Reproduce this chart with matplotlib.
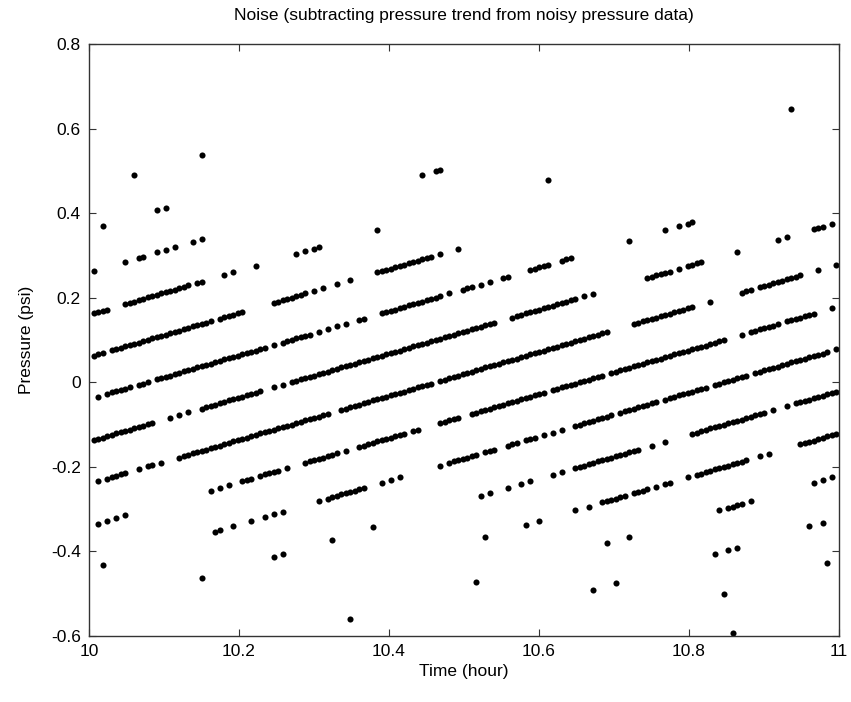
import matplotlib
matplotlib.use('Agg')
import matplotlib.pyplot as plt

# Noise points, grouped by quantisation band (band name = offset at 10 h)
t_m024 = [10.012, 10.024, 10.030, 10.036, 10.042, 10.048, 10.066, 10.078, 10.084, 10.096,
          10.120, 10.126, 10.132, 10.138, 10.144, 10.150, 10.156, 10.162, 10.168, 10.174,
          10.180, 10.186, 10.192, 10.198, 10.204, 10.210, 10.216, 10.222, 10.228, 10.234,
          10.240, 10.246, 10.252, 10.258, 10.264, 10.270, 10.276, 10.282, 10.288, 10.294,
          10.300, 10.306, 10.312, 10.318, 10.336, 10.342, 10.348, 10.354, 10.360, 10.366,
          10.372, 10.378, 10.384, 10.390, 10.396, 10.402, 10.408, 10.414, 10.420, 10.426,
          10.432, 10.438, 10.444, 10.450, 10.456, 10.468, 10.474, 10.480, 10.486, 10.492,
          10.498, 10.504, 10.510, 10.516, 10.522, 10.528, 10.534, 10.540, 10.546, 10.552,
          10.558, 10.564, 10.570, 10.576, 10.582, 10.588, 10.594, 10.600, 10.606, 10.612,
          10.618, 10.624, 10.630, 10.636, 10.642, 10.648, 10.654, 10.660, 10.666, 10.672,
          10.678, 10.684, 10.690, 10.726, 10.732, 10.738, 10.744, 10.750, 10.756, 10.762,
          10.768, 10.774, 10.780, 10.786, 10.792, 10.798, 10.804, 10.828, 10.870, 10.876,
          10.882, 10.894, 10.900, 10.906, 10.912, 10.918, 10.924, 10.930, 10.936, 10.942,
          10.948, 10.972, 10.996]
p_m024 = [-0.234, -0.228, -0.224, -0.221, -0.218, -0.215, -0.206, -0.199, -0.196, -0.190,
          -0.178, -0.174, -0.171, -0.168, -0.165, -0.162, -0.159, -0.156, -0.153, -0.150,
          -0.146, -0.143, -0.140, -0.137, -0.134, -0.131, -0.128, -0.125, -0.121, -0.118,
          -0.115, -0.112, -0.109, -0.106, -0.103, -0.100, -0.096, -0.093, -0.090, -0.087,
          -0.084, -0.081, -0.078, -0.075, -0.065, -0.062, -0.059, -0.056, -0.053, -0.050,
          -0.047, -0.043, -0.040, -0.037, -0.034, -0.031, -0.028, -0.025, -0.022, -0.018,
          -0.015, -0.012, -0.009, -0.006, -0.003, 0.003, 0.006, 0.010, 0.013, 0.016,
          0.019, 0.022, 0.025, 0.028, 0.031, 0.035, 0.038, 0.041, 0.044, 0.047,
          0.050, 0.053, 0.056, 0.060, 0.063, 0.066, 0.069, 0.072, 0.075, 0.078,
          0.081, 0.084, 0.088, 0.091, 0.094, 0.097, 0.100, 0.103, 0.106, 0.109,
          0.113, 0.116, 0.119, 0.138, 0.141, 0.144, 0.147, 0.150, 0.153, 0.156,
          0.159, 0.162, 0.166, 0.169, 0.172, 0.175, 0.178, 0.191, 0.212, 0.216,
          0.219, 0.225, 0.228, 0.231, 0.234, 0.237, 0.240, 0.244, 0.247, 0.250,
          0.253, 0.265, 0.278]

t_m014 = [10.006, 10.012, 10.018, 10.024, 10.030, 10.036, 10.042, 10.048, 10.054, 10.060,
          10.066, 10.072, 10.078, 10.084, 10.108, 10.120, 10.132, 10.150, 10.156, 10.162,
          10.168, 10.174, 10.180, 10.186, 10.192, 10.198, 10.204, 10.210, 10.216, 10.222,
          10.228, 10.246, 10.258, 10.270, 10.276, 10.282, 10.288, 10.294, 10.300, 10.306,
          10.312, 10.318, 10.324, 10.330, 10.336, 10.342, 10.348, 10.354, 10.360, 10.366,
          10.372, 10.378, 10.384, 10.390, 10.396, 10.402, 10.408, 10.414, 10.420, 10.426,
          10.432, 10.438, 10.444, 10.450, 10.456, 10.462, 10.468, 10.474, 10.480, 10.486,
          10.492, 10.498, 10.504, 10.510, 10.516, 10.522, 10.528, 10.534, 10.540, 10.564,
          10.570, 10.576, 10.582, 10.588, 10.594, 10.600, 10.606, 10.612, 10.618, 10.624,
          10.630, 10.636, 10.642, 10.648, 10.660, 10.672, 10.744, 10.750, 10.756, 10.762,
          10.768, 10.774, 10.786, 10.798, 10.804, 10.810, 10.816, 10.864, 10.918, 10.930,
          10.966, 10.972, 10.978, 10.990]
p_m014 = [-0.137, -0.134, -0.131, -0.128, -0.124, -0.121, -0.118, -0.115, -0.112, -0.109,
          -0.106, -0.103, -0.099, -0.096, -0.084, -0.078, -0.071, -0.062, -0.059, -0.056,
          -0.053, -0.050, -0.046, -0.043, -0.040, -0.037, -0.034, -0.031, -0.028, -0.025,
          -0.021, -0.012, -0.006, 0.000, 0.004, 0.007, 0.010, 0.013, 0.016, 0.019,
          0.022, 0.025, 0.028, 0.032, 0.035, 0.038, 0.041, 0.044, 0.047, 0.050,
          0.053, 0.057, 0.060, 0.063, 0.066, 0.069, 0.072, 0.075, 0.078, 0.082,
          0.085, 0.088, 0.091, 0.094, 0.097, 0.100, 0.103, 0.106, 0.110, 0.113,
          0.116, 0.119, 0.122, 0.125, 0.128, 0.131, 0.135, 0.138, 0.141, 0.153,
          0.156, 0.160, 0.163, 0.166, 0.169, 0.172, 0.175, 0.178, 0.181, 0.184,
          0.188, 0.191, 0.194, 0.197, 0.203, 0.209, 0.247, 0.250, 0.253, 0.256,
          0.259, 0.262, 0.269, 0.275, 0.278, 0.281, 0.284, 0.309, 0.337, 0.344,
          0.362, 0.365, 0.368, 0.375]

t_m004 = [10.012, 10.024, 10.030, 10.036, 10.042, 10.048, 10.054, 10.066, 10.072, 10.078,
          10.090, 10.096, 10.102, 10.108, 10.114, 10.120, 10.126, 10.132, 10.138, 10.144,
          10.150, 10.156, 10.162, 10.168, 10.174, 10.180, 10.186, 10.192, 10.198, 10.204,
          10.210, 10.216, 10.222, 10.228, 10.234, 10.246, 10.258, 10.264, 10.270, 10.276,
          10.282, 10.288, 10.294, 10.306, 10.318, 10.330, 10.342, 10.360, 10.366, 10.390,
          10.396, 10.402, 10.408, 10.414, 10.420, 10.426, 10.432, 10.438, 10.444, 10.450,
          10.456, 10.462, 10.468, 10.480, 10.498, 10.504, 10.510, 10.522, 10.534, 10.552,
          10.558, 10.588, 10.594, 10.600, 10.606, 10.612, 10.630, 10.636, 10.642, 10.720,
          10.768, 10.786, 10.798, 10.804]
p_m004 = [-0.034, -0.028, -0.024, -0.021, -0.018, -0.015, -0.012, -0.006, -0.003, 0.001,
          0.007, 0.010, 0.013, 0.016, 0.019, 0.022, 0.026, 0.029, 0.032, 0.035,
          0.038, 0.041, 0.044, 0.047, 0.050, 0.054, 0.057, 0.060, 0.063, 0.066,
          0.069, 0.072, 0.075, 0.079, 0.082, 0.088, 0.094, 0.097, 0.100, 0.104,
          0.107, 0.110, 0.113, 0.119, 0.125, 0.132, 0.138, 0.147, 0.150, 0.163,
          0.166, 0.169, 0.172, 0.175, 0.178, 0.182, 0.185, 0.188, 0.191, 0.194,
          0.197, 0.200, 0.203, 0.210, 0.219, 0.222, 0.225, 0.231, 0.238, 0.247,
          0.250, 0.266, 0.269, 0.272, 0.275, 0.278, 0.288, 0.291, 0.294, 0.334,
          0.359, 0.369, 0.375, 0.378]

t_p006 = [10.006, 10.012, 10.018, 10.030, 10.036, 10.042, 10.048, 10.054, 10.060, 10.066,
          10.072, 10.078, 10.084, 10.090, 10.096, 10.102, 10.108, 10.114, 10.120, 10.126,
          10.132, 10.138, 10.144, 10.150, 10.156, 10.162, 10.174, 10.180, 10.186, 10.192,
          10.198, 10.204, 10.246, 10.252, 10.258, 10.264, 10.270, 10.276, 10.282, 10.288,
          10.300, 10.312, 10.330, 10.348, 10.384, 10.390, 10.396, 10.402, 10.408, 10.414,
          10.420, 10.426, 10.432, 10.438, 10.444, 10.450, 10.456, 10.468, 10.492]
p_p006 = [0.063, 0.066, 0.069, 0.076, 0.079, 0.082, 0.085, 0.088, 0.091, 0.094,
          0.097, 0.101, 0.104, 0.107, 0.110, 0.113, 0.116, 0.119, 0.122, 0.126,
          0.129, 0.132, 0.135, 0.138, 0.141, 0.144, 0.150, 0.154, 0.157, 0.160,
          0.163, 0.166, 0.188, 0.191, 0.194, 0.197, 0.200, 0.204, 0.207, 0.210,
          0.216, 0.222, 0.232, 0.241, 0.260, 0.263, 0.266, 0.269, 0.272, 0.275,
          0.278, 0.282, 0.285, 0.288, 0.291, 0.294, 0.297, 0.303, 0.316]

t_p016 = [10.006, 10.012, 10.018, 10.024, 10.048, 10.054, 10.060, 10.066, 10.072, 10.078,
          10.084, 10.090, 10.096, 10.102, 10.108, 10.114, 10.120, 10.126, 10.132, 10.144,
          10.150, 10.180, 10.192, 10.222, 10.276, 10.288, 10.300, 10.306, 10.384, 10.612,
          10.936]
p_p016 = [0.163, 0.166, 0.169, 0.172, 0.185, 0.188, 0.191, 0.194, 0.197, 0.201,
          0.204, 0.207, 0.210, 0.213, 0.216, 0.219, 0.222, 0.226, 0.229, 0.235,
          0.238, 0.254, 0.260, 0.275, 0.304, 0.310, 0.316, 0.319, 0.360, 0.478,
          0.647]

t_p026 = [10.006, 10.048, 10.066, 10.072, 10.090, 10.102, 10.114, 10.138, 10.150, 10.444,
          10.462, 10.468]
p_p026 = [0.263, 0.285, 0.294, 0.297, 0.307, 0.313, 0.319, 0.332, 0.338, 0.491,
          0.500, 0.503]

t_p036 = [10.018, 10.090, 10.102]
p_p036 = [0.369, 0.407, 0.413]

t_p046 = [10.060, 10.150]
p_p046 = [0.491, 0.538]

t_m034 = [10.012, 10.024, 10.036, 10.048, 10.162, 10.174, 10.186, 10.204, 10.210, 10.216,
          10.228, 10.234, 10.240, 10.246, 10.252, 10.264, 10.288, 10.294, 10.300, 10.306,
          10.312, 10.318, 10.324, 10.330, 10.342, 10.360, 10.366, 10.372, 10.378, 10.384,
          10.390, 10.396, 10.402, 10.408, 10.414, 10.420, 10.432, 10.438, 10.468, 10.474,
          10.480, 10.486, 10.492, 10.510, 10.516, 10.522, 10.528, 10.534, 10.540, 10.546,
          10.552, 10.558, 10.564, 10.570, 10.576, 10.582, 10.588, 10.594, 10.600, 10.606,
          10.618, 10.624, 10.630, 10.636, 10.642, 10.648, 10.654, 10.660, 10.666, 10.672,
          10.678, 10.684, 10.696, 10.702, 10.708, 10.714, 10.720, 10.726, 10.732, 10.738,
          10.744, 10.750, 10.756, 10.762, 10.768, 10.774, 10.780, 10.786, 10.792, 10.798,
          10.804, 10.810, 10.816, 10.822, 10.828, 10.834, 10.840, 10.846, 10.870, 10.882,
          10.888, 10.894, 10.900, 10.906, 10.912, 10.918, 10.930, 10.936, 10.942, 10.948,
          10.954, 10.960, 10.966, 10.990]
p_m034 = [-0.334, -0.328, -0.321, -0.315, -0.256, -0.250, -0.243, -0.234, -0.231, -0.228,
          -0.221, -0.218, -0.215, -0.212, -0.209, -0.203, -0.190, -0.187, -0.184, -0.181,
          -0.178, -0.175, -0.172, -0.168, -0.162, -0.153, -0.150, -0.147, -0.143, -0.140,
          -0.137, -0.134, -0.131, -0.128, -0.125, -0.122, -0.115, -0.112, -0.097, -0.094,
          -0.090, -0.087, -0.084, -0.075, -0.072, -0.069, -0.065, -0.062, -0.059, -0.056,
          -0.053, -0.050, -0.047, -0.044, -0.040, -0.037, -0.034, -0.031, -0.028, -0.025,
          -0.019, -0.016, -0.012, -0.009, -0.006, -0.003, 0.000, 0.003, 0.006, 0.009,
          0.013, 0.016, 0.022, 0.025, 0.028, 0.031, 0.034, 0.038, 0.041, 0.044,
          0.047, 0.050, 0.053, 0.056, 0.059, 0.062, 0.066, 0.069, 0.072, 0.075,
          0.078, 0.081, 0.084, 0.087, 0.091, 0.094, 0.097, 0.100, 0.112, 0.119,
          0.122, 0.125, 0.128, 0.131, 0.134, 0.137, 0.144, 0.147, 0.150, 0.153,
          0.156, 0.159, 0.162, 0.175]

t_m044 = [10.018, 10.168, 10.174, 10.192, 10.216, 10.234, 10.246, 10.258, 10.306, 10.318,
          10.324, 10.330, 10.336, 10.342, 10.348, 10.354, 10.360, 10.366, 10.390, 10.402,
          10.414, 10.468, 10.480, 10.486, 10.492, 10.498, 10.504, 10.510, 10.516, 10.528,
          10.534, 10.540, 10.558, 10.564, 10.570, 10.582, 10.588, 10.594, 10.606, 10.618,
          10.630, 10.648, 10.654, 10.660, 10.666, 10.672, 10.678, 10.684, 10.690, 10.696,
          10.708, 10.714, 10.720, 10.726, 10.732, 10.738, 10.744, 10.750, 10.756, 10.768,
          10.774, 10.780, 10.786, 10.792, 10.798, 10.804, 10.810, 10.816, 10.822, 10.834,
          10.840, 10.846, 10.852, 10.858, 10.864, 10.870, 10.876, 10.888, 10.894, 10.900,
          10.906, 10.912, 10.918, 10.924, 10.930, 10.936, 10.942, 10.948, 10.954, 10.960,
          10.966, 10.972, 10.978, 10.984, 10.996]
p_m044 = [-0.431, -0.353, -0.350, -0.340, -0.328, -0.318, -0.312, -0.306, -0.281, -0.275,
          -0.272, -0.268, -0.265, -0.262, -0.259, -0.256, -0.253, -0.250, -0.237, -0.231,
          -0.225, -0.197, -0.190, -0.187, -0.184, -0.181, -0.178, -0.175, -0.172, -0.165,
          -0.162, -0.159, -0.150, -0.147, -0.144, -0.137, -0.134, -0.131, -0.125, -0.119,
          -0.112, -0.103, -0.100, -0.097, -0.094, -0.091, -0.087, -0.084, -0.081, -0.078,
          -0.072, -0.069, -0.066, -0.062, -0.059, -0.056, -0.053, -0.050, -0.047, -0.041,
          -0.038, -0.034, -0.031, -0.028, -0.025, -0.022, -0.019, -0.016, -0.013, -0.006,
          -0.003, 0.000, 0.003, 0.006, 0.009, 0.012, 0.016, 0.022, 0.025, 0.028,
          0.031, 0.034, 0.037, 0.040, 0.044, 0.047, 0.050, 0.053, 0.056, 0.059,
          0.062, 0.065, 0.068, 0.072, 0.078]

t_m054 = [10.150, 10.246, 10.258, 10.324, 10.378, 10.522, 10.534, 10.558, 10.576, 10.588,
          10.618, 10.630, 10.648, 10.654, 10.660, 10.666, 10.672, 10.678, 10.684, 10.690,
          10.696, 10.702, 10.708, 10.714, 10.720, 10.726, 10.732, 10.750, 10.768, 10.804,
          10.810, 10.816, 10.822, 10.828, 10.834, 10.840, 10.846, 10.852, 10.858, 10.864,
          10.870, 10.876, 10.882, 10.888, 10.894, 10.900, 10.912, 10.930, 10.942, 10.948,
          10.954, 10.960, 10.966, 10.972, 10.978, 10.984, 10.990, 10.996]
p_m054 = [-0.462, -0.412, -0.406, -0.372, -0.343, -0.269, -0.262, -0.250, -0.240, -0.234,
          -0.219, -0.212, -0.203, -0.200, -0.197, -0.194, -0.191, -0.187, -0.184, -0.181,
          -0.178, -0.175, -0.172, -0.169, -0.166, -0.162, -0.159, -0.150, -0.141, -0.122,
          -0.119, -0.116, -0.113, -0.109, -0.106, -0.103, -0.100, -0.097, -0.094, -0.091,
          -0.088, -0.084, -0.081, -0.078, -0.075, -0.072, -0.066, -0.056, -0.050, -0.047,
          -0.044, -0.041, -0.038, -0.035, -0.032, -0.028, -0.025, -0.022]

t_m064 = [10.528, 10.582, 10.600, 10.648, 10.666, 10.684, 10.690, 10.696, 10.702, 10.708,
          10.714, 10.726, 10.732, 10.738, 10.744, 10.756, 10.768, 10.774, 10.798, 10.810,
          10.816, 10.822, 10.828, 10.834, 10.840, 10.846, 10.852, 10.858, 10.864, 10.870,
          10.876, 10.894, 10.906, 10.948, 10.954, 10.960, 10.966, 10.972, 10.978, 10.984,
          10.990, 10.996]
p_m064 = [-0.365, -0.337, -0.328, -0.303, -0.294, -0.284, -0.281, -0.278, -0.275, -0.272,
          -0.269, -0.262, -0.259, -0.256, -0.253, -0.247, -0.241, -0.238, -0.225, -0.219,
          -0.216, -0.213, -0.209, -0.206, -0.203, -0.200, -0.197, -0.194, -0.191, -0.188,
          -0.184, -0.175, -0.169, -0.147, -0.144, -0.141, -0.138, -0.135, -0.132, -0.128,
          -0.125, -0.122]

t_m074 = [10.348, 10.516, 10.690, 10.720, 10.840, 10.852, 10.858, 10.864, 10.870, 10.882,
          10.966, 10.978, 10.990]
p_m074 = [-0.559, -0.472, -0.381, -0.366, -0.303, -0.297, -0.294, -0.291, -0.288, -0.281,
          -0.238, -0.232, -0.225]

t_m084 = [10.672, 10.702, 10.834, 10.852, 10.864, 10.960, 10.978]
p_m084 = [-0.491, -0.475, -0.406, -0.397, -0.391, -0.341, -0.332]

t_m094 = [10.846, 10.984]
p_m094 = [-0.500, -0.428]

t_m104 = [10.858]
p_m104 = [-0.594]

x_ticks = [10, 10.2, 10.4, 10.6, 10.8, 11]
x_labels = ['10', '10.2', '10.4', '10.6', '10.8', '11']
y_ticks = [-0.6, -0.4, -0.2, 0, 0.2, 0.4, 0.6, 0.8]
y_labels = ['-0.6', '-0.4', '-0.2', '0', '0.2', '0.4', '0.6', '0.8']

plt.rcParams['font.family'] = ['Liberation Sans', 'DejaVu Sans']

fig = plt.figure(figsize=(8.51, 7.02), dpi=100)
ax = fig.add_axes([0.1046, 0.094, 0.8813, 0.8433])

# todas las bandas en negro, como en el original
bandas = [(t_m024, p_m024), (t_m014, p_m014), (t_m004, p_m004), (t_p006, p_p006),
          (t_p016, p_p016), (t_p026, p_p026), (t_p036, p_p036), (t_p046, p_p046),
          (t_m034, p_m034), (t_m044, p_m044), (t_m054, p_m054), (t_m064, p_m064),
          (t_m074, p_m074), (t_m084, p_m084), (t_m094, p_m094), (t_m104, p_m104)]
for t, p in bandas:
    ax.plot(t, p, linestyle='none', marker='o', markersize=4.4, color='black',
            markeredgewidth=0)

ax.set_xlim(10, 11)
ax.set_ylim(-0.6, 0.8)
ax.set_xticks(x_ticks)
ax.set_xticklabels(x_labels)
ax.set_yticks(y_ticks)
ax.set_yticklabels(y_labels)
ax.tick_params(direction='in', length=5, top=True, right=True, labelsize=12.5,
               color='#333333', pad=6)
for s in ax.spines.values():
    s.set_color('#333333')
    s.set_linewidth(1.0)

ax.set_xlabel('Time (hour)', fontsize=12.5, labelpad=3)
ax.set_ylabel('Pressure (psi)', fontsize=12.5, labelpad=12)
ax.set_title('Noise (subtracting pressure trend from noisy pressure data)', fontsize=12.5, pad=17)

fig.savefig('out.png', dpi=100, facecolor='white')
